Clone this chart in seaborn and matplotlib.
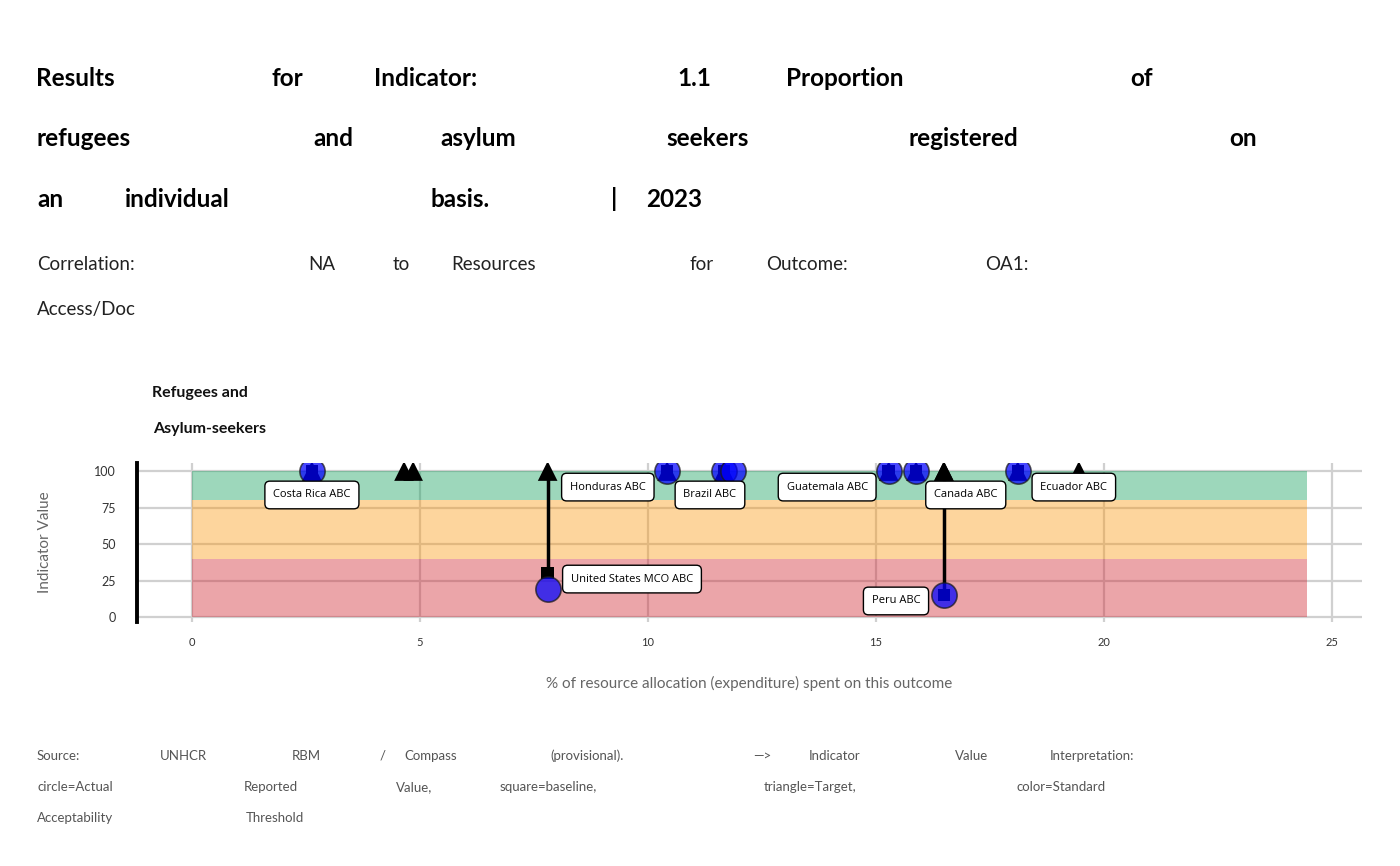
import numpy as np
import pandas as pd
import matplotlib
matplotlib.use("Agg")
from matplotlib import pyplot as plt
import seaborn as sns

# ---- data ----
operation = ["Costa Rica ABC", "", "", "United States MCO ABC", "Honduras ABC", "",
             "Brazil ABC", "Guatemala ABC", "", "Canada ABC", "Peru ABC", "", "Ecuador ABC"]
alloc = [2.63, 4.65, 4.85, 7.80, 10.42, 11.67, 11.86, 15.28, 15.88, 16.49, 16.49, 18.11, 19.45]
actual = [100, np.nan, np.nan, 19, 100, 100, 100, 100, 100, np.nan, 15, 100, np.nan]
baseline = [100, np.nan, np.nan, 30, 100, 100, np.nan, 100, 100, np.nan, 15, 100, np.nan]
target = [100, 100, 100, 100, 100, 100, np.nan, 100, 100, 100, 100, 100, 100]

band_lo = [0, 40, 80]
band_hi = [40, 80, 100]
band_col = ["#CF1E2A", "#FC960A", "#0A9D57"]
band_xmax = 24.45

df = pd.DataFrame({"operation": operation, "alloc": alloc, "actual": actual,
                   "baseline": baseline, "target": target})

# label placement (repel-like), in data units
label_pos = {"Costa Rica ABC": (2.63, 83.6), "Honduras ABC": (9.12, 89.0),
             "Brazil ABC": (11.36, 83.6), "Guatemala ABC": (13.93, 89.0),
             "Canada ABC": (16.97, 83.6), "Ecuador ABC": (19.34, 89.0),
             "United States MCO ABC": (9.65, 26.0), "Peru ABC": (15.44, 11.0)}

sns.set_theme(style="whitegrid")
plt.rcParams["font.family"] = ["Lato", "DejaVu Sans"]

W, H = 1400, 866
fig = plt.figure(figsize=(14, 8.66), dpi=100)
ax = fig.add_axes([137 / W, 1 - 622 / H, (1362 - 137) / W, (622 - 463) / H])

ax.set_xlim(-1.206, 25.66)
ax.set_ylim(-3.4, 105.5)
ax.grid(True, color="#d0d0d0", lw=1.6)
ax.set_axisbelow(True)

for lo, hi, c in zip(band_lo, band_hi, band_col):
    ax.fill_between([0, band_xmax], lo, hi, color=c, alpha=0.4, lw=0, zorder=2)

# segments baseline -> target
seg = df.dropna(subset=["baseline", "target"])
seg = seg[seg.baseline != seg.target]
for _, r in seg.iterrows():
    ax.plot([r.alloc, r.alloc], [r.baseline, r.target], color="black", lw=2.5, zorder=3)

sns.scatterplot(data=df, x="alloc", y="baseline", marker="s", s=80, color="black",
                edgecolor="none", ax=ax, zorder=4, legend=False)
sns.scatterplot(data=df, x="alloc", y="target", marker="^", s=200, color="black",
                edgecolor="none", ax=ax, zorder=4.5, legend=False)
sns.scatterplot(data=df, x="alloc", y="actual", marker="o", s=330, color="#0000FF",
                alpha=0.72, edgecolor="#1a1a1a", linewidth=1.2, ax=ax, zorder=5, legend=False)

for name, (lx, ly) in label_pos.items():
    ax.text(lx, ly, name, ha="center", va="center", fontsize=8, family=["Open Sans", "DejaVu Sans"],
            color="black", zorder=6,
            bbox=dict(boxstyle="round,pad=0.75,rounding_size=0.45", fc="white", ec="black", lw=1))

ax.set_xticks([0, 5, 10, 15, 20, 25])
ax.set_yticks([0, 25, 50, 75, 100])
ax.tick_params(axis="x", labelsize=8, pad=11, colors="#333333", length=0)
ax.tick_params(axis="y", labelsize=9, pad=15, colors="#333333", length=0)
for s in ["top", "right", "bottom"]:
    ax.spines[s].set_visible(False)
ax.spines["left"].set_color("black")
ax.spines["left"].set_linewidth(2.8)

ax.set_xlabel("% of resource allocation (expenditure) spent on this outcome",
              fontsize=11, color="#666666")
ax.xaxis.set_label_coords(0.5, -0.34)
ax.set_ylabel("Indicator Value", fontsize=11, color="#666666")
ax.yaxis.set_label_coords(-0.069, 0.5)


def words(items, ybase, size, weight="normal", color="black"):
    for x, w in items:
        fig.text(x / W, 1 - ybase / H, w, fontsize=size, fontweight=weight, color=color,
                 ha="left", va="baseline")


# title (justified-looking words)
words([(36, "Results"), (271, "for"), (374, "Indicator:"), (677, "1.1"),
       (786, "Proportion"), (1130, "of")], 86, 17.5, "bold")
words([(36, "refugees"), (313, "and"), (440, "asylum"), (666, "seekers"),
       (909, "registered"), (1229, "on")], 146, 17.5, "bold")
words([(37, "an"), (125, "individual"), (430, "basis."), (611, "|"), (646, "2023")],
      207, 17.5, "bold")
# subtitle
words([(37, "Correlation:"), (308, "NA"), (393, "to"), (451, "Resources"), (690, "for"),
       (766, "Outcome:"), (985, "OA1:")], 270, 13.5, color="#222222")
words([(37, "Access/Doc")], 315, 13.5, color="#222222")
# facet-like heading
words([(152, "Refugees and")], 397, 11.5, "bold", "#111111")
words([(153, "Asylum-seekers")], 433, 11.5, "bold", "#111111")
# caption
cap = "#555555"
words([(37, "Source:"), (160, "UNHCR"), (292, "RBM"), (380, "/"), (404, "Compass"),
       (550, "(provisional)."), (753, "—>"), (809, "Indicator"), (955, "Value"),
       (1050, "Interpretation:")], 760, 9.5, color=cap)
words([(37, "circle=Actual"), (244, "Reported"), (396, "Value,"), (500, "square=baseline,"),
       (764, "triangle=Target,"), (1016, "color=Standard")], 791, 9.5, color=cap)
words([(37, "Acceptability"), (246, "Threshold")], 822, 9.5, color=cap)

fig.savefig("out.png", dpi=100, facecolor="white")
